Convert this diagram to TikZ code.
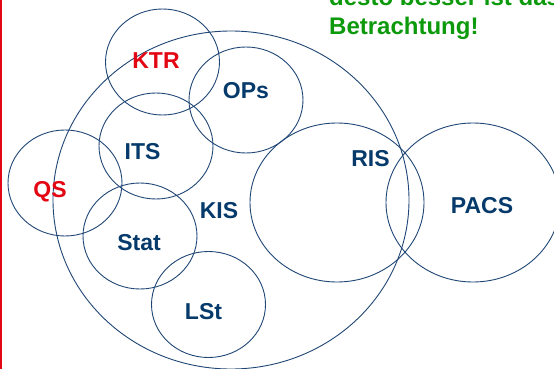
\documentclass[tikz,border=0pt]{standalone}
\usepackage{fontspec}
\setmainfont{Liberation Sans}
\usetikzlibrary{shapes.geometric}
\definecolor{ringblue}{HTML}{1F4675}
\definecolor{labelblue}{HTML}{053A6B}
\definecolor{alertred}{HTML}{E30613}
\definecolor{notegreen}{HTML}{0C9A0C}
\begin{document}
\begin{tikzpicture}[x=1pt,y=-1pt,
  ring/.style={ellipse, draw=ringblue, line width=0.9pt, inner sep=0pt},
  smallring/.style={ring, minimum width=114pt, minimum height=106pt},
  lbl/.style={anchor=base, inner sep=0pt, text=labelblue,
              font=\bfseries\fontsize{23}{27}\selectfont},
  redlbl/.style={lbl, text=alertred},
  note/.style={anchor=base west, inner sep=0pt, text=notegreen,
               font=\bfseries\fontsize{24}{29}\selectfont}]
\useasboundingbox (0,0) rectangle (554,369);
\clip (0,0) rectangle (554,369);
\fill[white] (0,0) rectangle (554,369);

% hospital information system and its subsystems
\node[ring, minimum width=356pt, minimum height=338pt] (kis) at (231,200) {};
\node[smallring] (ktr) at (162.5,62) {};
\node[smallring] (ops) at (246,100) {};
\node[smallring] (qs) at (65,183) {};
\node[smallring] (its) at (156,146) {};
\node[smallring] (stat) at (140,236) {};
\node[smallring] (lst) at (208.5,304.5) {};
\node[ring, minimum width=174pt, minimum height=159pt] (ris) at (337,202.5) {};
\node[ring, minimum width=174pt, minimum height=159pt] (pacs) at (473,202.5) {};

% labels
\node[redlbl] (ktrl) at (156,69) {KTR};
\node[lbl] (opsl) at (246,99) {OPs};
\node[lbl] (itsl) at (142.5,159) {ITS};
\node[redlbl] (qsl) at (50,197) {QS};
\node[lbl] (statl) at (139,250) {Stat};
\node[lbl] (kisl) at (219,218) {KIS};
\node[lbl] (risl) at (370.5,166) {RIS};
\node[lbl] (pacsl) at (482,213) {PACS};
\node[lbl] (lstl) at (203.5,319) {LSt};

% remark in the upper right corner
\node[note] (note1) at (329,6) {desto besser ist das};
\node[note] (note2) at (329,35) {Betrachtung!};

% margin rule
\draw[alertred, line width=1.6pt] (0.8,0) -- (0.8,369);
\end{tikzpicture}
\end{document}
